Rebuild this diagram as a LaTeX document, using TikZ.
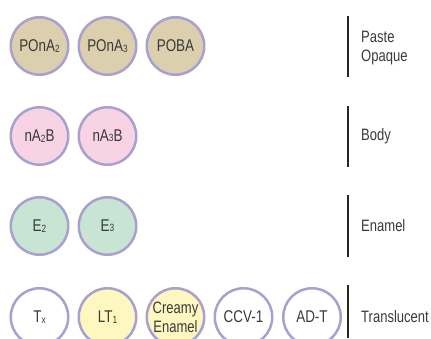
\documentclass[tikz,border=0pt]{standalone}
\usepackage{fontspec}
\setmainfont[FakeStretch=0.79]{Liberation Sans}
\usepackage{xcolor}
\usepackage{tikz}

\definecolor{ring}{RGB}{168,160,206}
\definecolor{pastetan}{RGB}{220,207,173}
\definecolor{bodypink}{RGB}{248,211,228}
\definecolor{enamelgreen}{RGB}{200,228,210}
\definecolor{ltyellow}{RGB}{255,247,192}
\definecolor{ink}{RGB}{58,58,58}
\newcommand{\lo}[1]{\raisebox{-0.4pt}{\fontsize{10.5}{10.5}\selectfont #1}}

\begin{document}
\begin{tikzpicture}[x=1pt, y=1pt,
    shade/.style={circle, draw=ring, line width=2.5pt, minimum size=57.5pt,
      inner sep=0pt, text=ink, align=center, font=\fontsize{17}{19}\selectfont},
    group/.style={anchor=west, align=left, inner sep=0pt, text=ink,
      font=\fontsize{16.5}{19.5}\selectfont},
    bar/.style={line width=2pt, black!85}]
    \useasboundingbox (0,0) rectangle (431,338);
    \clip (0,0) rectangle (431,338);
    % paste opaque
    \node[shade, fill=pastetan] (ponaa) at (39.5,292) {POnA\lo{2}};
    \node[shade, fill=pastetan] (ponab) at (107.5,292) {POnA\lo{3}};
    \node[shade, fill=pastetan] (poba) at (175.5,292) {POBA};
    \draw[bar] (348,322) -- (348,261);
    \node[group] (paste) at (361,290) {Paste\\Opaque};
    % body
    \node[shade, fill=bodypink] (naab) at (39.5,202) {nA\lo{2}B};
    \node[shade, fill=bodypink] (nabb) at (107.5,202) {nA\lo{3}B};
    \draw[bar] (348,232) -- (348,171);
    \node[group] (body) at (361,202) {Body};
    % enamel
    \node[shade, fill=enamelgreen] (ea) at (39.5,112) {E\lo{2}};
    \node[shade, fill=enamelgreen] (eb) at (107.5,112) {E\lo{3}};
    \draw[bar] (348,143) -- (348,81);
    \node[group] (enamel) at (361,112) {Enamel};
    % translucent
    \node[shade, fill=white] (tx) at (39.5,21) {T\lo{x}};
    \node[shade, fill=ltyellow] (lt) at (107.5,21) {LT\lo{1}};
    \node[shade, fill=ltyellow, font=\fontsize{16.5}{19}\selectfont] (creamy) at (175.5,21) {Creamy\\Enamel};
    \node[shade, fill=white] (ccv) at (243.5,21) {CCV-1};
    \node[shade, fill=white] (adt) at (312,21) {AD-T};
    \draw[bar] (348,53) -- (348,0);
    \node[group] (transl) at (361,21) {Translucent};
\end{tikzpicture}
\end{document}
